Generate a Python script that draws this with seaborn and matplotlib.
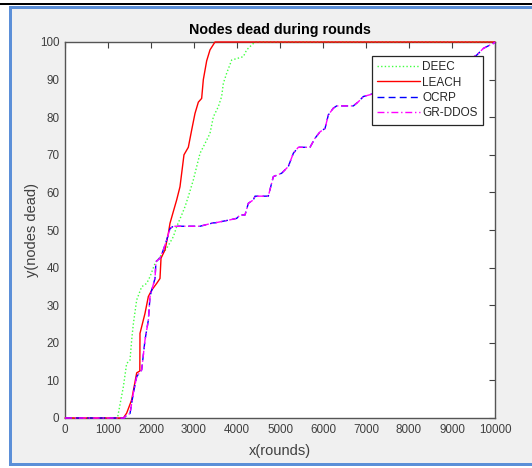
import numpy as np
import pandas as pd
import matplotlib
matplotlib.use("Agg")
import matplotlib.pyplot as plt
from matplotlib.patches import Rectangle
from matplotlib.lines import Line2D
import seaborn as sns

# ---- data ----
deec_x = [0, 1220, 1240, 1357, 1434, 1512, 1550, 1589, 1667, 1783, 1900, 1977, 2093, 2209, 2364, 2519,
          2597, 2713, 2791, 2868, 2984, 3140, 3256, 3372, 3450, 3566, 3643, 3682, 3760, 3876,
          4147, 4225, 4341, 4419, 10000]
deec_y = [0, 0, 1.2, 8.3, 14.5, 15.4, 20.7, 25, 31.4, 34.9, 35.8, 37.6, 41.1, 42.9, 45.1, 48.2,
          50.9, 54, 56.2, 58.9, 63.3, 70.4, 73, 75.7, 80.1, 82.8, 85.5, 89, 91.7, 95.2,
          96.1, 97.9, 99.2, 100, 100]

leach_x = [0, 1357, 1434, 1550, 1667, 1740, 1744, 1860, 1938, 2016, 2132, 2209, 2233, 2326, 2403,
           2442, 2519, 2597, 2674, 2767, 2868, 2946, 3023, 3101, 3178, 3217, 3295, 3372, 3488, 10000]
leach_y = [0, 0, 1.3, 4.8, 12, 12.5, 22.5, 27.8, 32.3, 34, 35.8, 37.1, 42.5, 44.7, 49.1,
           51.8, 54.9, 58, 61.5, 70, 72, 76.6, 81, 84, 85, 90, 95, 97.9, 100, 100]

grddos_x = [0, 1380, 1395, 1512, 1589, 1667, 1783, 1860, 1938, 1977, 2016, 2093, 2116, 2209, 2287, 2364,
            2442, 2519, 3140, 3450, 3488, 3837, 3993, 4070, 4186, 4264, 4380, 4419, 4728, 4845,
            5039, 5194, 5310, 5426, 5698, 5814, 5930, 6047, 6124, 6240, 6318, 6705, 6822, 6938,
            7100, 7500, 8000, 8500, 9000, 9400, 9574, 9729, 9884, 9961, 10000]
grddos_y = [0, 0, 0.4, 1.2, 6.6, 11, 12.8, 20.7, 26, 32.3, 34, 37.1, 41.6, 42.5, 44.7, 47.3,
            50.4, 51, 51, 51.9, 51.9, 52.7, 53.1, 54, 54, 57.1, 58, 59, 59, 64.2,
            65.1, 66.9, 70.4, 72, 72, 74.4, 76.1, 77, 80.6, 82.4, 83, 83, 84.1, 85.5,
            86, 88, 90, 92, 94, 95.5, 96.5, 98.3, 99.2, 99.6, 100]

ocrp_x = list(grddos_x)
ocrp_y = list(grddos_y)

series_names = ["DEEC", "LEACH", "OCRP", "GR-DDOS"]
x_ticks = [0, 1000, 2000, 3000, 4000, 5000, 6000, 7000, 8000, 9000, 10000]
y_ticks = [0, 10, 20, 30, 40, 50, 60, 70, 80, 90, 100]

# ---- style ----
sns.set_style("white")
plt.rcParams["font.family"] = ["Liberation Sans", "DejaVu Sans"]

W, H = 532, 468
fig = plt.figure(figsize=(W / 100, H / 100), dpi=100, facecolor="white")

def px_rect(x0, y0, x1, y1, color):
    fig.add_artist(Rectangle((x0 / W, 1 - y1 / H), (x1 - x0) / W, (y1 - y0) / H,
                             transform=fig.transFigure, facecolor=color,
                             edgecolor="none", zorder=-10))

# window frame
px_rect(0, 2.7, W, 4.7, "#000000")
px_rect(9, 5.5, W, 466, "#5b8fd8")
px_rect(12, 8.5, W, 463, "#f0f0f0")

ax = fig.add_axes([65 / W, 1 - 418 / H, (495 - 65) / W, (418 - 42) / H])
ax.set_facecolor("white")

styles = {
    "DEEC": dict(color="#40ff40", linestyle=(0, (1, 1.6)), lw=1.0),
    "LEACH": dict(color="#ff0000", linestyle="-", lw=1.0),
    "OCRP": dict(color="#0000ff", linestyle=(0, (5, 3)), lw=1.0),
    "GR-DDOS": dict(color="#ff00ff", linestyle=(0, (5, 2, 1, 2)), lw=1.0),
}
data = {
    "DEEC": (deec_x, deec_y),
    "LEACH": (leach_x, leach_y),
    "OCRP": (ocrp_x, ocrp_y),
    "GR-DDOS": (grddos_x, grddos_y),
}
for i, name in enumerate(series_names):
    xs, ys = data[name]
    df = pd.DataFrame({"x": xs, "y": ys})
    sns.lineplot(data=df, x="x", y="y", ax=ax, estimator=None, sort=False,
                 color=styles[name]["color"], linestyle=styles[name]["linestyle"],
                 lw=styles[name]["lw"], legend=False, clip_on=False, zorder=3 + i * 0.1)

ax.set_xlim(0, 10000)
ax.set_ylim(0, 100)
ax.set_xticks(x_ticks)
ax.set_yticks(y_ticks)
ax.set_xticklabels([str(t) for t in x_ticks])
ax.set_yticklabels([str(t) for t in y_ticks])
ax.tick_params(direction="in", length=4, width=0.8, colors="#404040",
               labelsize=8.4, top=True, right=True, pad=4)
for s in ax.spines.values():
    s.set_color("#555555")
    s.set_linewidth(1.0)

ax.set_xlabel("x(rounds)", fontsize=10.5, color="#404040", labelpad=6)
ax.set_ylabel("y(nodes dead)", fontsize=10.5, color="#404040", labelpad=1)
ax.set_title("Nodes dead during rounds", fontsize=10.3, fontweight="bold",
             color="#000000", pad=6)

handles = [Line2D([0], [0], **styles[n]) for n in series_names]
leg = ax.legend(handles, series_names, loc="upper right",
                bbox_to_anchor=((483 - 65) / 430, (418 - 56) / 376),
                fontsize=8.5, frameon=True, fancybox=False, framealpha=1,
                edgecolor="#262626", handlelength=3.6, handletextpad=0.2,
                labelspacing=0.28, borderpad=0.45, borderaxespad=0)
leg.get_frame().set_linewidth(0.9)
leg.set_zorder(10)

fig.savefig("out.png", dpi=100, facecolor=fig.get_facecolor())
